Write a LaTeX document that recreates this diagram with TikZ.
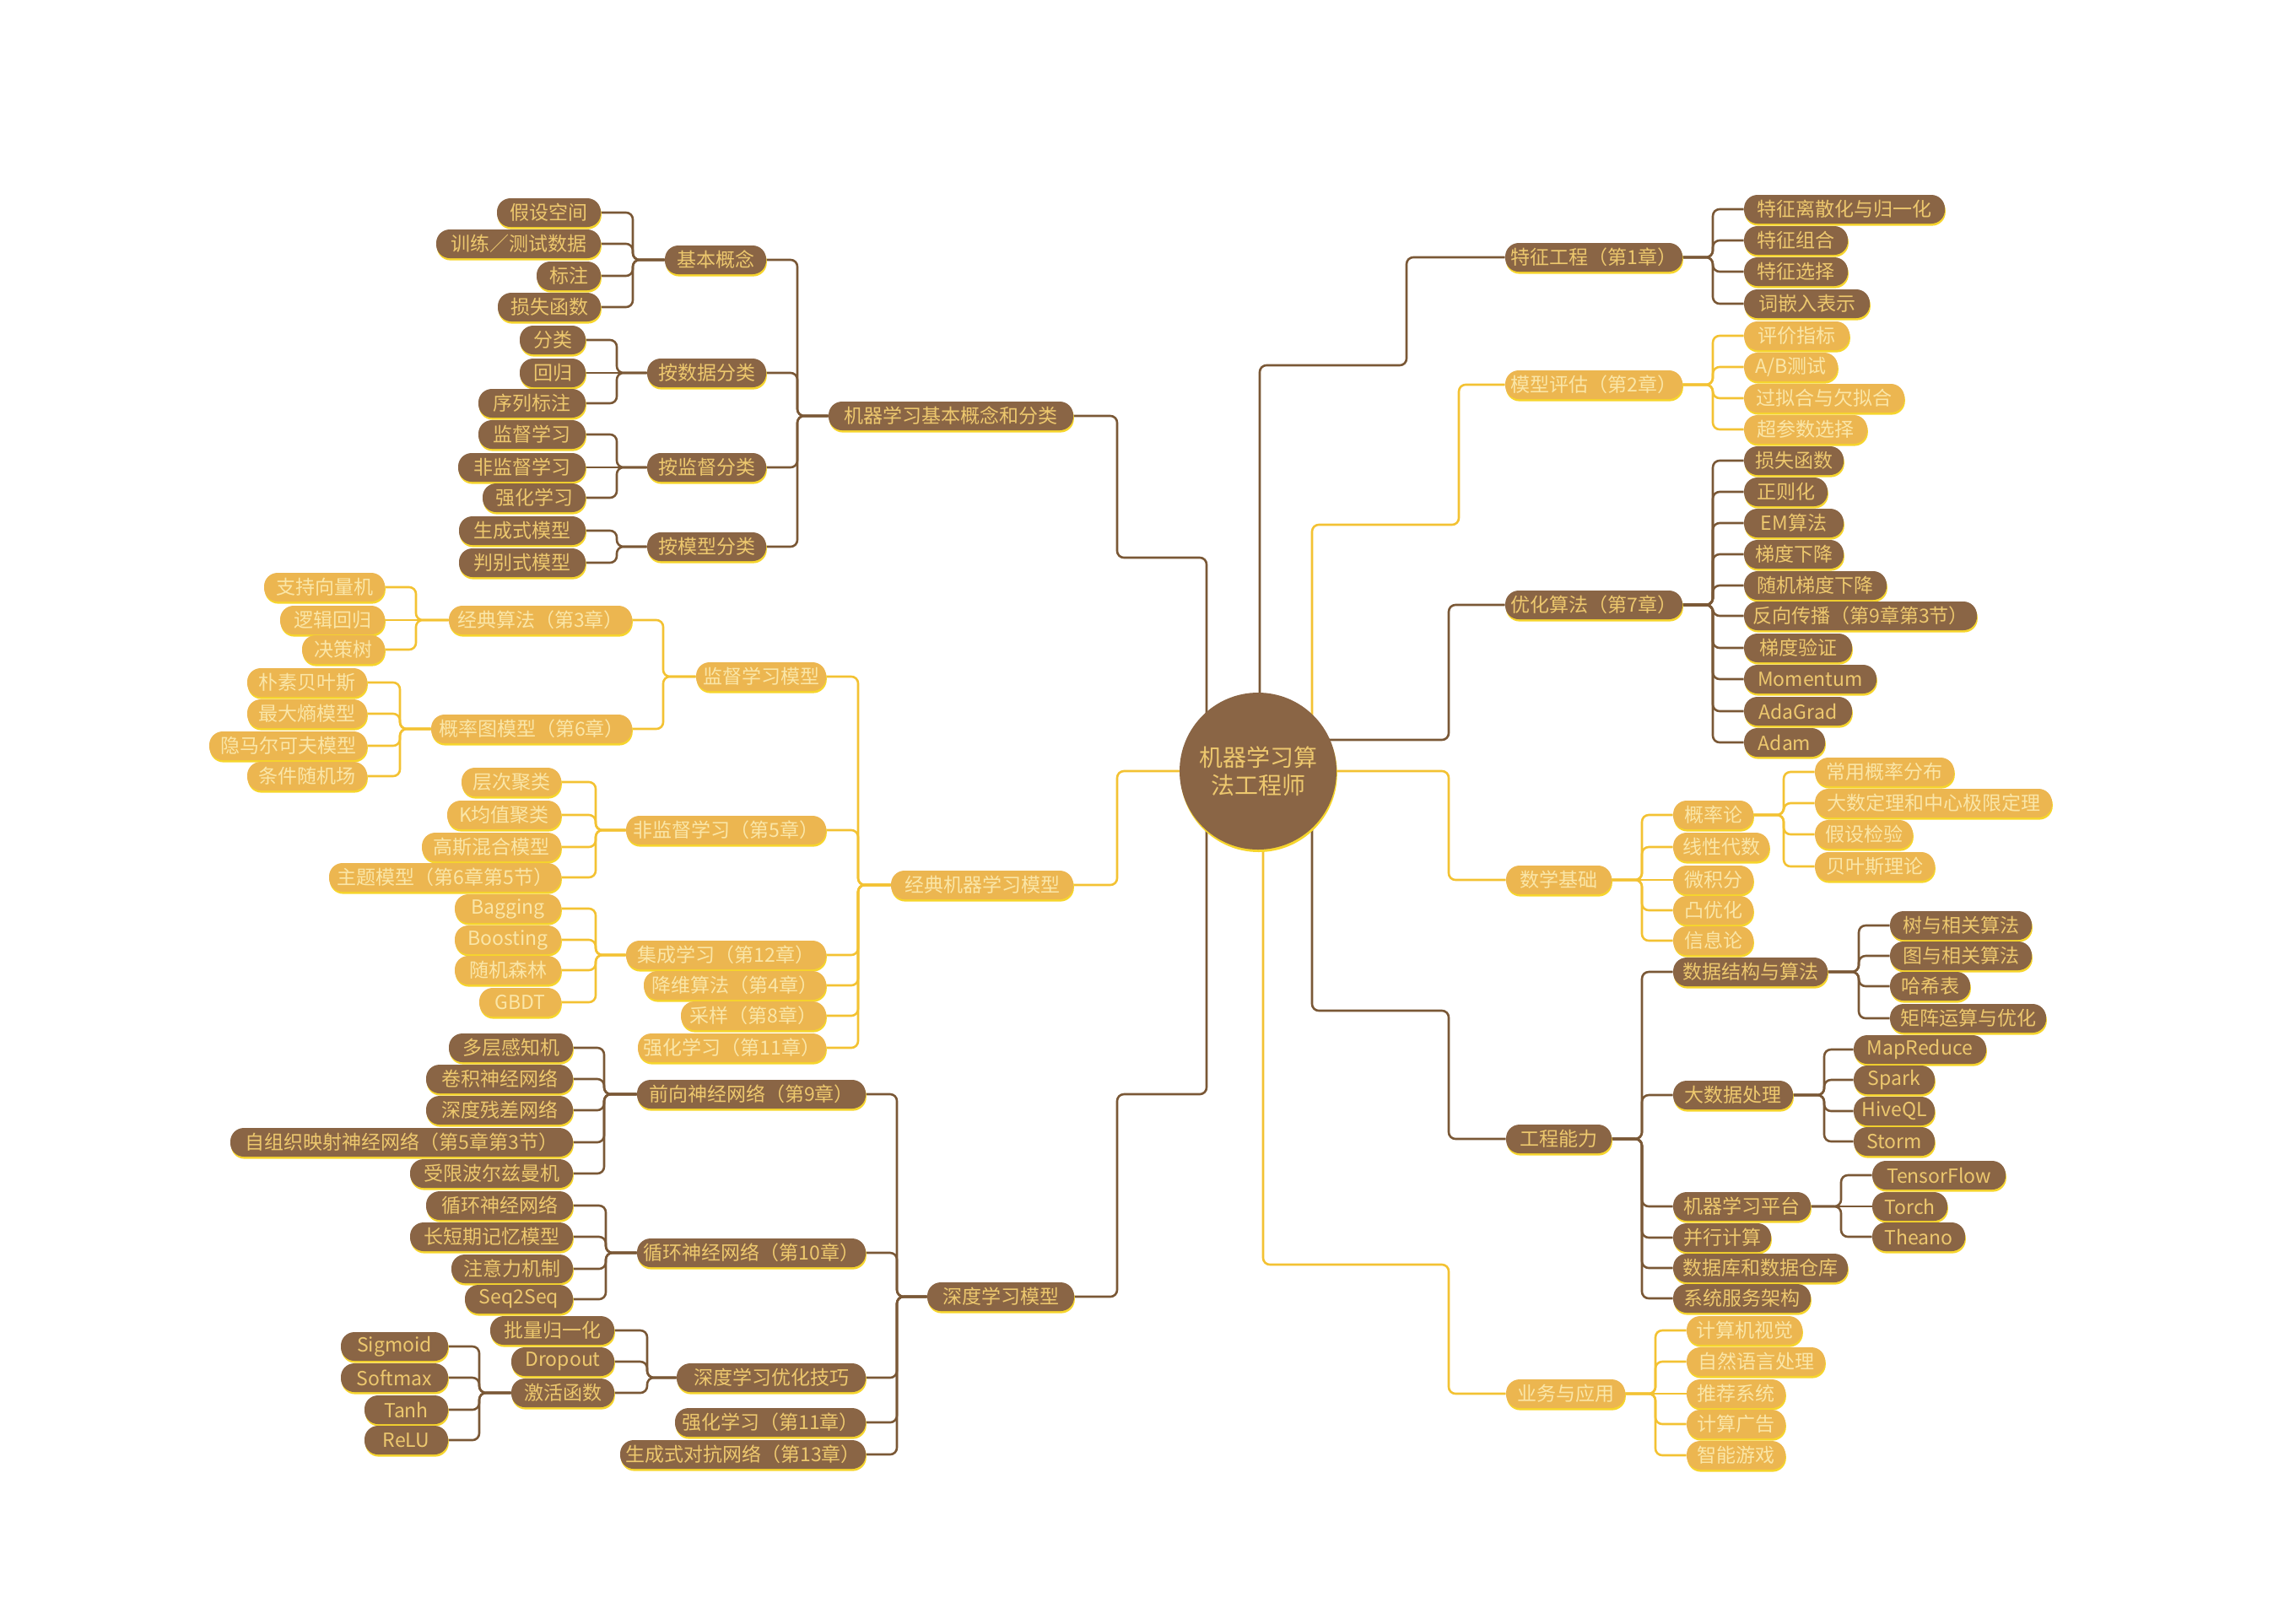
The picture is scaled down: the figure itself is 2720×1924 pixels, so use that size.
\documentclass[tikz,border=0pt]{standalone}
\usepackage{fontspec}
\setmainfont{Noto Sans CJK SC}
\usetikzlibrary{shadows}
\pgfdeclarelayer{background}
\pgfsetlayers{background,main}
\definecolor{brn}{HTML}{8A6545}
\definecolor{gld}{HTML}{ECB650}
\definecolor{btxt}{HTML}{EDC86E}
\definecolor{gtxt}{HTML}{FAE6A8}
\definecolor{blinec}{HTML}{7A5836}
\definecolor{glinec}{HTML}{F3C233}
\definecolor{shd}{HTML}{F6D52C}
\newcommand\boxfont{\fontsize{11.5}{13}\selectfont}
\newcommand\hubfont{\fontsize{14}{16.5}\selectfont}
\tikzset{
  basebox/.style={rounded corners=8pt, minimum height=17pt, inner xsep=0pt, inner ysep=0pt, font=\boxfont,
     drop shadow={shadow xshift=0.4pt, shadow yshift=-1.3pt, fill=shd, opacity=1}},
  bbox/.style={basebox, fill=brn, text=btxt},
  gbox/.style={basebox, fill=gld, text=gtxt},
  hubnode/.style={circle, fill=brn, text=btxt, minimum size=93pt, inner sep=0pt, align=center, font=\hubfont,
     drop shadow={shadow xshift=0.4pt, shadow yshift=-1.5pt, fill=shd, opacity=1}},
  bl/.style={draw=blinec, line width=1.3pt, rounded corners=4pt},
  gl/.style={draw=glinec, line width=1.3pt, rounded corners=4pt}
}
\newcommand\BN[5]{\pgfmathsetmacro\nw{(#3-#2)*0.5}\node[bbox,minimum width=\nw pt] (#1) at ({(#2+#3)/2},#4) {#5};}
\newcommand\GN[5]{\pgfmathsetmacro\nw{(#3-#2)*0.5}\node[gbox,minimum width=\nw pt] (#1) at ({(#2+#3)/2},#4) {#5};}
\newcommand\LC[4]{\path (#4,0) coordinate (vv);\draw[#1] (#2.east) -- (#2.east -| vv) -- (#3.west -| vv) -- (#3.west);}
\newcommand\RC[4]{\path (#4,0) coordinate (vv);\draw[#1] (#2.east) -- (#2.east -| vv) -- (#3.west -| vv) -- (#3.west);}
\newcommand\LS[3]{\draw[#1] (#2.east) -- (#3.west);}
\begin{document}
\begin{tikzpicture}[x=0.5pt,y=-0.5pt]
\useasboundingbox (0,0) rectangle (2720,1924);
% hub
\node[hubnode] (hub) at (1491,914) {机器学习算\\法工程师};
% ---------- left: basic concepts
\BN{c1}{982}{1272}{493}{机器学习基本概念和分类}
\BN{a1}{788}{908}{308}{基本概念}
\BN{a11}{589}{712}{252}{假设空间}
\BN{a12}{517}{712}{289}{训练／测试数据}
\BN{a13}{636}{712}{327}{标注}
\BN{a14}{590}{712}{364}{损失函数}
\BN{a2}{767}{908}{442}{按数据分类}
\BN{a21}{616}{694}{403}{分类}
\BN{a22}{616}{694}{442}{回归}
\BN{a23}{567}{694}{478}{序列标注}
\BN{a3}{767}{908}{554}{按监督分类}
\BN{a31}{567}{694}{515}{监督学习}
\BN{a32}{543}{694}{554}{非监督学习}
\BN{a33}{572}{694}{590}{强化学习}
\BN{a4}{767}{908}{648}{按模型分类}
\BN{a41}{544}{694}{629}{生成式模型}
\BN{a42}{544}{694}{667}{判别式模型}
% ---------- left: classic ML
\GN{c2}{1056}{1272}{1049}{经典机器学习模型}
\GN{b1}{825}{979}{802}{监督学习模型}
\GN{b11}{532}{749}{735}{经典算法（第3章）}
\GN{b111}{313}{456}{696}{支持向量机}
\GN{b112}{332}{456}{735}{逻辑回归}
\GN{b113}{358}{456}{770}{决策树}
\GN{b12}{511}{749}{864}{概率图模型（第6章）}
\GN{b121}{293}{435}{809}{朴素贝叶斯}
\GN{b122}{293}{435}{846}{最大熵模型}
\GN{b123}{248}{435}{884}{隐马尔可夫模型}
\GN{b124}{293}{435}{920}{条件随机场}
\GN{b2}{742}{979}{984}{非监督学习（第5章）}
\GN{b21}{547}{665}{927}{层次聚类}
\GN{b22}{530}{665}{966}{K均值聚类}
\GN{b23}{500}{665}{1004}{高斯混合模型}
\GN{b24}{390}{665}{1040}{主题模型（第6章第5节）}
\GN{b3}{742}{979}{1132}{集成学习（第12章）}
\GN{b31}{539}{665}{1077}{Bagging}
\GN{b32}{539}{665}{1114}{Boosting}
\GN{b33}{539}{665}{1150}{随机森林}
\GN{b34}{568}{665}{1188}{GBDT}
\GN{b4}{763}{979}{1168}{降维算法（第4章）}
\GN{b5}{807}{979}{1204}{采样（第8章）}
\GN{b6}{756}{979}{1242}{强化学习（第11章）}
% ---------- left: deep learning
\BN{c3}{1099}{1273}{1537}{深度学习模型}
\BN{d1}{755}{1026}{1297}{前向神经网络（第9章）}
\BN{d11}{532}{679}{1242}{多层感知机}
\BN{d12}{505}{679}{1279}{卷积神经网络}
\BN{d13}{505}{679}{1316}{深度残差网络}
\BN{d14}{273}{679}{1354}{自组织映射神经网络（第5章第3节）}
\BN{d15}{486}{679}{1391}{受限波尔兹曼机}
\BN{d2}{755}{1026}{1485}{循环神经网络（第10章）}
\BN{d21}{505}{679}{1429}{循环神经网络}
\BN{d22}{486}{679}{1466}{长短期记忆模型}
\BN{d23}{535}{679}{1504}{注意力机制}
\BN{d24}{551}{679}{1540}{Seq2Seq}
\BN{d3}{802}{1026}{1633}{深度学习优化技巧}
\BN{d31}{581}{728}{1577}{批量归一化}
\BN{d32}{606}{728}{1614}{Dropout}
\BN{d33}{606}{728}{1651}{激活函数}
\BN{d331}{404}{531}{1596}{Sigmoid}
\BN{d332}{404}{531}{1633}{Softmax}
\BN{d333}{432}{531}{1671}{Tanh}
\BN{d334}{432}{531}{1707}{ReLU}
\BN{d4}{800}{1026}{1686}{强化学习（第11章）}
\BN{d5}{735}{1026}{1724}{生成式对抗网络（第13章）}
% ---------- right
\BN{r1}{1784}{1994}{305}{特征工程（第1章）}
\BN{r11}{2067}{2305}{248}{特征离散化与归一化}
\BN{r12}{2067}{2190}{285}{特征组合}
\BN{r13}{2067}{2190}{322}{特征选择}
\BN{r14}{2067}{2216}{360}{词嵌入表示}
\GN{r2}{1784}{1994}{456}{模型评估（第2章）}
\GN{r21}{2067}{2192}{398}{评价指标}
\GN{r22}{2067}{2178}{435}{A/B测试}
\GN{r23}{2067}{2257}{472}{过拟合与欠拟合}
\GN{r24}{2067}{2213}{509}{超参数选择}
\BN{r3}{1784}{1994}{717}{优化算法（第7章）}
\BN{r31}{2067}{2185}{546}{损失函数}
\BN{r32}{2067}{2166}{583}{正则化}
\BN{r33}{2067}{2185}{620}{EM算法}
\BN{r34}{2067}{2185}{657}{梯度下降}
\BN{r35}{2067}{2236}{694}{随机梯度下降}
\BN{r36}{2067}{2343}{730}{反向传播（第9章第3节）}
\BN{r37}{2067}{2195}{768}{梯度验证}
\BN{r38}{2067}{2224}{805}{Momentum}
\BN{r39}{2067}{2195}{843}{AdaGrad}
\BN{r30}{2067}{2163}{880}{Adam}
\GN{r4}{1785}{1910}{1043}{数学基础}
\GN{m1}{1983}{2078}{966}{概率论}
\GN{m2}{1983}{2097}{1004}{线性代数}
\GN{m3}{1983}{2078}{1043}{微积分}
\GN{m4}{1983}{2078}{1079}{凸优化}
\GN{m5}{1983}{2078}{1115}{信息论}
\GN{m11}{2151}{2316}{915}{常用概率分布}
\GN{m12}{2151}{2432}{952}{大数定理和中心极限定理}
\GN{m13}{2151}{2267}{989}{假设检验}
\GN{m14}{2151}{2293}{1027}{贝叶斯理论}
\BN{r5}{1785}{1910}{1350}{工程能力}
\BN{e1}{1983}{2166}{1152}{数据结构与算法}
\BN{e11}{2240}{2408}{1097}{树与相关算法}
\BN{e12}{2240}{2408}{1133}{图与相关算法}
\BN{e13}{2240}{2335}{1169}{哈希表}
\BN{e14}{2240}{2425}{1207}{矩阵运算与优化}
\BN{e2}{1983}{2125}{1298}{大数据处理}
\BN{e21}{2197}{2354}{1244}{MapReduce}
\BN{e22}{2197}{2293}{1280}{Spark}
\BN{e23}{2197}{2293}{1317}{HiveQL}
\BN{e24}{2197}{2293}{1353}{Storm}
\BN{e3}{1983}{2146}{1430}{机器学习平台}
\BN{e31}{2219}{2377}{1393}{TensorFlow}
\BN{e32}{2219}{2308}{1430}{Torch}
\BN{e33}{2219}{2329}{1466}{Theano}
\BN{e4}{1983}{2099}{1467}{并行计算}
\BN{e5}{1983}{2190}{1503}{数据库和数据仓库}
\BN{e6}{1983}{2146}{1539}{系统服务架构}
\GN{r6}{1785}{1926}{1652}{业务与应用}
\GN{s1}{1999}{2136}{1577}{计算机视觉}
\GN{s2}{1999}{2163}{1614}{自然语言处理}
\GN{s3}{1999}{2116}{1652}{推荐系统}
\GN{s4}{1999}{2116}{1688}{计算广告}
\GN{s5}{1999}{2116}{1725}{智能游戏}
% ---------- connectors
\begin{pgfonlayer}{background}
% main branches
\draw[bl] (c1.east) -- (1324,493) -- (1324,661) -- (1430,661) -- ([xshift=-30.5pt]hub.center);
\draw[gl] (c2.east) -- (1324,1049) -- (1324,914) -- (hub.center);
\draw[bl] (c3.east) -- (1324,1537) -- (1324,1297) -- (1430,1297) -- ([xshift=-30.5pt]hub.center);
\draw[bl] (r1.west) -- (1667,305) -- (1667,433) -- (1493,433) -- ([xshift=1pt]hub.center);
\draw[gl] (r2.west) -- (1729,456) -- (1729,622) -- (1555,622) -- ([xshift=32pt]hub.center);
\draw[bl] (r3.west) -- (1717,717) -- (1717,877) -- ([yshift=18.5pt]hub.center);
\draw[gl] (r4.west) -- (1717,1043) -- (1717,914) -- (hub.center);
\draw[bl] (r5.west) -- (1717,1350) -- (1717,1198) -- (1555,1198) -- ([xshift=32pt]hub.center);
\draw[gl] (r6.west) -- (1717,1652) -- (1717,1499) -- (1497,1499) -- ([xshift=3pt]hub.center);
% left subtrees
\foreach \n in {a1,a2,a3,a4} {\LC{bl}{\n}{c1}{945}}
\foreach \n in {a11,a12,a13,a14} {\LC{bl}{\n}{a1}{750}}
\foreach \n in {a21,a23} {\LC{bl}{\n}{a2}{731}}
\LS{bl}{a22}{a2}
\foreach \n in {a31,a33} {\LC{bl}{\n}{a3}{731}}
\LS{bl}{a32}{a3}
\foreach \n in {a41,a42} {\LC{bl}{\n}{a4}{731}}
\foreach \n in {b1,b2,b3,b4,b5,b6} {\LC{gl}{\n}{c2}{1017}}
\foreach \n in {b11,b12} {\LC{gl}{\n}{b1}{786}}
\foreach \n in {b111,b113} {\LC{gl}{\n}{b11}{493}}
\LS{gl}{b112}{b11}
\foreach \n in {b121,b122,b123,b124} {\LC{gl}{\n}{b12}{474}}
\foreach \n in {b21,b22,b23,b24} {\LC{gl}{\n}{b2}{706}}
\foreach \n in {b31,b32,b33,b34} {\LC{gl}{\n}{b3}{706}}
\foreach \n in {d1,d2,d3,d4,d5} {\LC{bl}{\n}{c3}{1063}}
\foreach \n in {d11,d12,d13,d14,d15} {\LC{bl}{\n}{d1}{716}}
\foreach \n in {d21,d22,d23,d24} {\LC{bl}{\n}{d2}{718}}
\foreach \n in {d31,d32,d33} {\LC{bl}{\n}{d3}{767}}
\foreach \n in {d331,d332,d333,d334} {\LC{bl}{\n}{d33}{568}}
% right subtrees
\foreach \n in {r11,r12,r13,r14} {\RC{bl}{r1}{\n}{2030}}
\foreach \n in {r21,r22,r23,r24} {\RC{gl}{r2}{\n}{2030}}
\foreach \n in {r31,r32,r33,r34,r35,r36,r37,r38,r39,r30} {\RC{bl}{r3}{\n}{2030}}
\foreach \n in {m1,m2,m4,m5} {\RC{gl}{r4}{\n}{1946}}
\LS{gl}{r4}{m3}
\foreach \n in {m11,m12,m13,m14} {\RC{gl}{m1}{\n}{2114}}
\foreach \n in {e1,e2,e3,e4,e5,e6} {\RC{bl}{r5}{\n}{1946}}
\foreach \n in {e11,e12,e13,e14} {\RC{bl}{e1}{\n}{2203}}
\foreach \n in {e21,e22,e23,e24} {\RC{bl}{e2}{\n}{2162}}
\foreach \n in {e31,e33} {\RC{bl}{e3}{\n}{2182}}
\LS{bl}{e3}{e32}
\foreach \n in {s1,s2,s4,s5} {\RC{gl}{r6}{\n}{1962}}
\LS{gl}{r6}{s3}
\end{pgfonlayer}
\end{tikzpicture}
\end{document}
